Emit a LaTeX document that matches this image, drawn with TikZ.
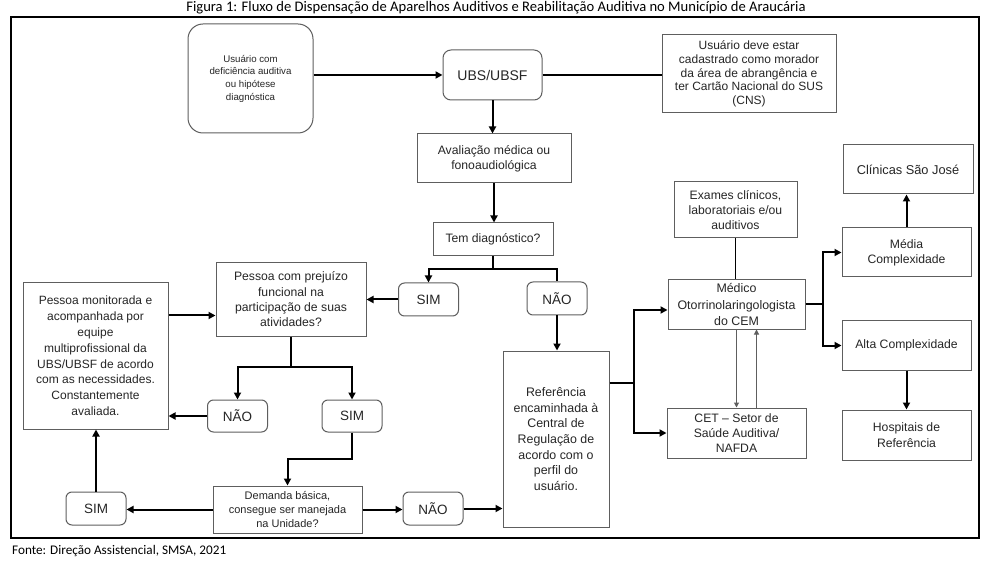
\documentclass[tikz,border=0pt]{standalone}
\usepackage{fontspec}
\setmainfont{Liberation Sans}
\newfontfamily\capfont{Carlito}
\usetikzlibrary{arrows.meta, calc}

\definecolor{boxgray}{HTML}{5E5E5E}
\definecolor{txtgray}{HTML}{262626}

\begin{document}
\begin{tikzpicture}[x=1pt, y=-1pt,
    box/.style={draw=boxgray, line width=1pt, fill=white, align=center, inner sep=0pt,
      text=txtgray, font=\fontsize{12.2}{15.3}\selectfont},
    rbox/.style={box, rounded corners=6pt},
    answer/.style={rbox, minimum width=60pt, minimum height=33pt, font=\fontsize{13.5}{16}\selectfont},
    link/.style={line width=2pt, -{Triangle[length=7pt, width=7pt]}},
    plain/.style={line width=2pt},
    thin link/.style={draw=boxgray, line width=1pt, -{Triangle[length=5pt, width=5pt]}}]
  \useasboundingbox (0,0) rectangle (994,564);
  \fill[white] (0,0) rectangle (994,564);
  \draw[line width=2.5pt] (11,17) rectangle (979,538);

  % caption and source
  \node[font=\capfont\fontsize{14.6}{16}\selectfont, anchor=base, inner sep=0pt] (title) at (496,12)
    {Figura 1: Fluxo de Dispensação de Aparelhos Auditivos e Reabilitação Auditiva no Município de Araucária};
  \node[font=\capfont\fontsize{13.2}{15}\selectfont, anchor=base west, inner sep=0pt] (source) at (12,554)
    {Fonte: Direção Assistencial, SMSA, 2021};

  % entry
  \node[rbox, rounded corners=15pt, minimum width=125pt, minimum height=109pt,
    font=\fontsize{9.7}{12.7}\selectfont] (user) at (250.5,78.5)
    {Usuário com\\deficiência auditiva\\ou hipótese\\diagnóstica};
  \node[rbox, rounded corners=8pt, minimum width=99pt, minimum height=50pt,
    font=\fontsize{14}{16}\selectfont] (ubs) at (492.5,75) {UBS/UBSF};
  \node[box, minimum width=174pt, minimum height=78pt, font=\fontsize{12}{13.75}\selectfont] (cadastro) at (749,74)
    {Usuário deve estar\\cadastrado como morador\\da área de abrangência e\\ter Cartão Nacional do SUS\\(CNS)};
  \node[box, minimum width=154pt, minimum height=49pt] (aval) at (494,158.5)
    {Avaliação médica ou\\fonoaudiológica};
  \node[box, minimum width=120pt, minimum height=33pt] (diag) at (493,239.5) {Tem diagnóstico?};
  \node[answer] (sim1) at (428.5,299.5) {SIM};
  \node[answer] (nao1) at (557,298.5) {NÃO};

  % basic care loop
  \node[box, minimum width=150pt, minimum height=73pt] (prej) at (291,299.5)
    {Pessoa com prejuízo\\funcional na\\participação de suas\\atividades?};
  \node[box, minimum width=145pt, minimum height=146pt, font=\fontsize{12}{15.8}\selectfont] (monit) at (95.5,356)
    {Pessoa monitorada e\\acompanhada por\\equipe\\multiprofissional da\\UBS/UBSF de acordo\\com as necessidades.\\Constantemente\\avaliada.};
  \node[answer, minimum height=32pt] (nao2) at (237.5,416) {NÃO};
  \node[answer, minimum height=32pt] (sim2) at (352,416) {SIM};
  \node[box, minimum width=149pt, minimum height=47pt, font=\fontsize{11}{13.7}\selectfont] (demanda) at (287.5,509.5)
    {Demanda básica,\\consegue ser manejada\\na Unidade?};
  \node[answer] (sim3) at (96,508.5) {SIM};
  \node[answer] (nao3) at (433,508.5) {NÃO};

  % specialised care
  \node[box, minimum width=106pt, minimum height=176pt, font=\fontsize{12.4}{15.7}\selectfont] (ref) at (556,439)
    {Referência\\encaminhada à\\Central de\\Regulação de\\acordo com o\\perfil do\\usuário.};
  \node[box, minimum width=137pt, minimum height=49pt, font=\fontsize{12.4}{16.5}\selectfont] (medico) at (736.5,304.5)
    {Médico\\Otorrinolaringologista\\do CEM};
  \node[box, minimum width=123pt, minimum height=56pt] (exames) at (735.5,210)
    {Exames clínicos,\\laboratoriais e/ou\\auditivos};
  \node[box, minimum width=139pt, minimum height=50pt] (cet) at (736.5,433)
    {CET – Setor de\\Saúde Auditiva/\\NAFDA};
  \node[box, minimum width=129pt, minimum height=49pt] (media) at (906.5,252.5) {Média\\Complexidade};
  \node[box, minimum width=129pt, minimum height=49pt] (alta) at (906.5,345.5) {Alta Complexidade};
  \node[box, minimum width=130pt, minimum height=49pt, font=\fontsize{12.8}{15}\selectfont] (clinicas) at (908,169.5)
    {Clínicas São José};
  \node[box, minimum width=129pt, minimum height=50pt] (hosp) at (906.5,435) {Hospitais de\\Referência};

  % split points
  \coordinate (dsplit) at (493,269);
  \coordinate (psplit) at (291,367);
  \coordinate (ssplit) at (352,459);
  \coordinate (rsplit) at (634,383);
  \coordinate (msplit) at (823,304.5);
  \coordinate (pin) at ([yshift=-16pt]prej.west);

  \draw[link] (ubs.west -| user.east) -- (ubs.west);
  \draw[plain] (ubs.east) -- (ubs.east -| cadastro.west);
  \draw[link] (ubs.south) -- (ubs.south |- aval.north);
  \draw[link] (aval.south) -- (aval.south |- diag.north);
  \draw[link] (diag.south) -- (dsplit) -| (sim1.north);
  \draw[plain] (dsplit) -| (nao1.north);
  \draw[link] (nao1.south) -- (nao1.south |- ref.north);
  \draw[link] (sim1.west) -- (sim1.west -| prej.east);
  \draw[link] (pin -| monit.east) -- (pin);
  \draw[link] (prej.south) -- (psplit) -| (nao2.north);
  \draw[link] (psplit) -| (sim2.north);
  \draw[link] (nao2.west) -- (nao2.west -| monit.east);
  \draw[link] (sim2.south) -- (ssplit) -| (demanda.north);
  \draw[link] (demanda.west) -- (demanda.west -| sim3.east);
  \draw[link] (sim3.north) -- (sim3.north |- monit.south);
  \draw[link] (demanda.east) -- (demanda.east -| nao3.west);
  \draw[link] (nao3.east) -- (nao3.east -| ref.west);
  \draw[plain] (rsplit -| ref.east) -- (rsplit);
  \draw[link] (rsplit) |- ([yshift=-5.5pt]medico.west);
  \draw[link] (rsplit) |- (cet.west);
  \draw[line width=1.6pt] (exames.south) -- (exames.south |- medico.north);
  \draw[thin link] (medico.south) -- (medico.south |- cet.north);
  \draw[thin link] ([xshift=20pt]cet.north) -- ([xshift=20pt]cet.north |- medico.south);
  \draw[plain] (medico.east) -- (msplit);
  \draw[link] (msplit) |- (media.west);
  \draw[link] (msplit) |- (alta.west);
  \draw[link] (media.north) -- (media.north |- clinicas.south);
  \draw[link] (alta.south) -- (alta.south |- hosp.north);
\end{tikzpicture}
\end{document}
